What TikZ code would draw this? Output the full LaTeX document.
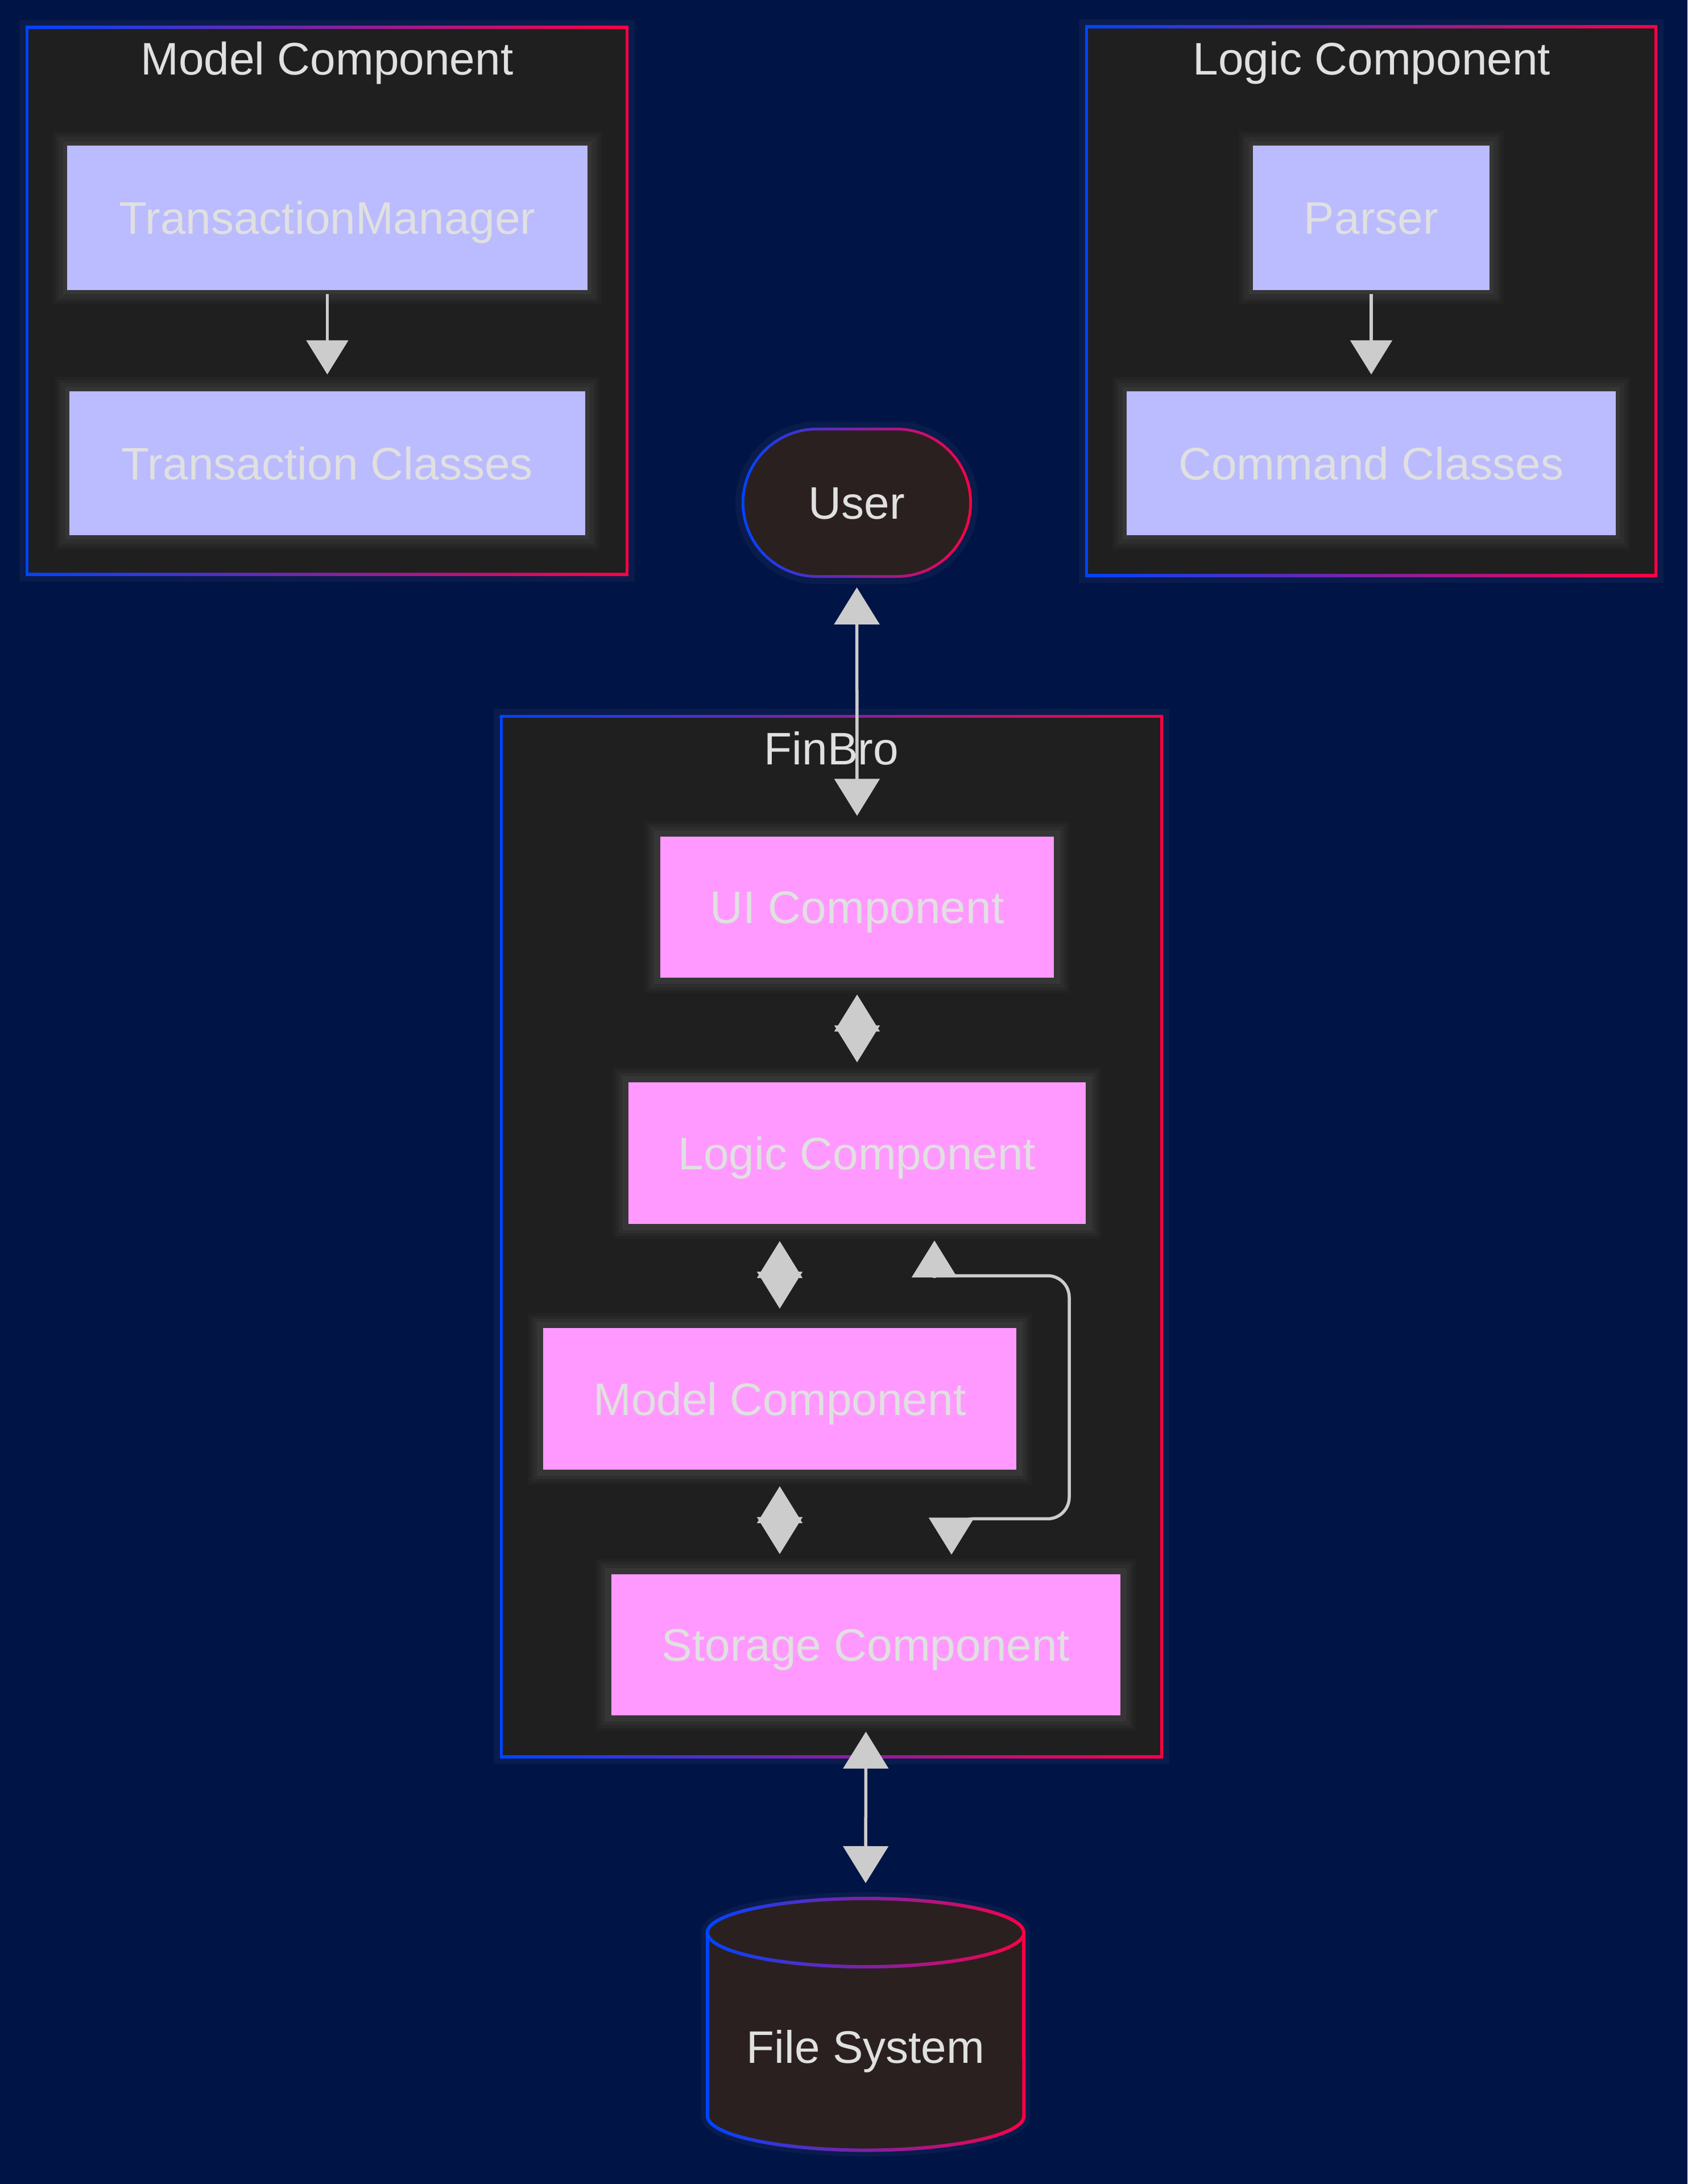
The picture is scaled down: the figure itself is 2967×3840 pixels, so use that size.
\documentclass[tikz,border=0pt]{standalone}
\usepackage{fontspec}
\setmainfont{Liberation Sans}
\usetikzlibrary{arrows.meta,calc}
\definecolor{bg}{HTML}{001446}
\definecolor{clfill}{HTML}{1F1F1F}
\definecolor{lav}{HTML}{BBBBFF}
\definecolor{pinkc}{HTML}{FF99FF}
\definecolor{bord}{HTML}{363636}
\definecolor{txt}{HTML}{E0E0E0}
\definecolor{darkc}{HTML}{2B2020}
\definecolor{gblue}{HTML}{0044FF}
\definecolor{gred}{HTML}{FF0044}
\definecolor{arr}{HTML}{CCCCCC}
\def\cylbody{(1244,3398) -- (1244,3720.5) arc[start angle=180,end angle=360,x radius=2.78cm,y radius=0.6cm] -- (1800,3398) arc[start angle=0,end angle=180,x radius=2.78cm,y radius=0.6cm] -- cycle}
\def\cyltop{(1244,3398) arc[start angle=180,end angle=360,x radius=2.78cm,y radius=0.6cm]}
\begin{document}
\begin{tikzpicture}[x=0.01cm,y=-0.01cm,
  font=\fontsize{22.8pt}{27pt}\selectfont,
  boxglow/.style={preaction={draw=white,opacity=0.018,line width=0.42cm},
                  preaction={draw=white,opacity=0.022,line width=0.32cm},
                  preaction={draw=white,opacity=0.03,line width=0.22cm}},
  compbox/.style={boxglow,draw=bord,text=txt,inner sep=0pt,text height=0.573cm,text depth=0pt},
  lavbox/.style={compbox,fill=lav,line width=0.07cm,minimum height=2.61cm},
  pinkbox/.style={compbox,fill=pinkc,line width=0.11cm,minimum height=2.59cm},
  title/.style={text=txt,inner sep=0pt,text height=0.573cm,text depth=0pt},
  conn/.style={draw=arr,line width=0.055cm},
  smalltip/.style={-{Triangle[width=0.73cm,length=0.6cm]}},
  bigtip/.style={{Triangle[width=0.79cm,length=0.65cm]}-{Triangle[width=0.79cm,length=0.65cm]}},
  onetip/.style={-{Triangle[width=0.79cm,length=0.65cm]}},
  clglow/.style={draw=white,opacity=0.035,line width=0.22cm}
]
\useasboundingbox (0,0) rectangle (2967,3840);
\fill[bg] (0,0) rectangle (2967,3840);

% ---- clusters ----
\draw[clglow] (45,46) rectangle (1105,1012);
\shade[left color=gblue,right color=gred] (45,46) rectangle (1105,1012);
\fill[clfill] (50,51) rectangle (1100,1007);
\node[title] (mctitle) at (575,103) {Model Component};

\draw[clglow] (1908,45) rectangle (2914,1014);
\shade[left color=gblue,right color=gred] (1908,45) rectangle (2914,1014);
\fill[clfill] (1913,50) rectangle (2909,1009);
\node[title] (lctitle) at (2412,103) {Logic Component};

\draw[clglow] (879,1257) rectangle (2045,3091);
\shade[left color=gblue,right color=gred] (879,1257) rectangle (2045,3091);
\fill[clfill] (884,1262) rectangle (2040,3086);
\node[title] (fbtitle) at (1462,1316) {FinBro};

% ---- lavender boxes ----
\node[lavbox,minimum width=9.22cm] (tm) at (575.5,383) {TransactionManager};
\node[lavbox,minimum width=9.14cm,minimum height=2.60cm] (tc) at (575.5,814.5) {Transaction Classes};
\node[lavbox,minimum width=4.23cm] (parser) at (2411,383) {Parser};
\node[lavbox,minimum width=8.67cm,minimum height=2.60cm] (cc) at (2411,814.5) {Command Classes};

% ---- pink boxes ----
\node[pinkbox,minimum width=7.03cm] (ui) at (1507,1595) {UI Component};
\node[pinkbox,minimum width=8.15cm] (logic) at (1507,2027.5) {Logic Component};
\node[pinkbox,minimum width=8.43cm] (model) at (1371,2459.5) {Model Component};
\node[pinkbox,minimum width=9.06cm] (storage) at (1522.5,2892) {Storage Component};

% ---- User ----
\draw[clglow,rounded corners=1.32cm] (1304,752) rectangle (1709,1016);
\shade[left color=gblue,right color=gred,rounded corners=1.32cm] (1304,752) rectangle (1709,1016);
\node[fill=darkc,rounded corners=1.27cm,minimum width=3.95cm,minimum height=2.54cm,
      inner sep=0pt,text=txt,text height=0.573cm,text depth=0pt] (user) at (1506.5,884) {User};

% ---- File System cylinder ----
\draw[clglow] \cylbody;
\fill[darkc] \cylbody;
\foreach \i in {0,...,39}{
  \pgfmathsetmacro\xa{1234+\i*14.5}
  \pgfmathsetmacro\xb{\xa+14.9}
  \pgfmathtruncatemacro\pr{100*\i/39}
  \begin{scope}
    \clip (\xa,3300) rectangle (\xb,3800);
    \draw[line width=0.06cm,color=gred!\pr!gblue] \cylbody;
    \draw[line width=0.06cm,color=gred!\pr!gblue] \cyltop;
  \end{scope}
}
\node[title] (fs) at (1522,3599) {File System};
\coordinate (fstop) at (1522,3335);

% ---- connectors ----
\draw[conn,smalltip,shorten >=0.225cm] (tm.south) -- (tc.north);
\draw[conn,smalltip,shorten >=0.225cm] (parser.south) -- (cc.north);
\draw[conn,bigtip,shorten <=0.21cm,shorten >=0.255cm] (user.south) -- (ui.north);
\draw[conn,bigtip,shorten <=0.185cm,shorten >=0.245cm] (ui.south) -- (logic.north);
\draw[conn,bigtip,shorten <=0.195cm,shorten >=0.235cm] (logic.south -| model.north) -- (model.north);
\draw[conn,bigtip,shorten <=0.185cm,shorten >=0.245cm] (model.south) -- (storage.north -| model.south);
\draw[conn,bigtip,shorten <=0.175cm,shorten >=0.24cm] (storage.south) -- (fstop);

% Logic <-> Storage side connector
\coordinate (lsA) at ($(logic.south)+(136,18.5)$);
\coordinate (lsB) at ($(storage.north)+(150.5,-23.5)$);
\draw[conn,rounded corners=0.38cm] ($(lsA)+(0,30)$) |- (1880,2243) |- ($(lsB)+(0,-63)$) -- ($(lsB)+(0,-35)$);
\draw[conn,onetip] ($(lsA)+(0,66)$) -- (lsA);
\draw[conn,onetip] ($(lsB)+(0,-62)$) -- (lsB);
\end{tikzpicture}
\end{document}
